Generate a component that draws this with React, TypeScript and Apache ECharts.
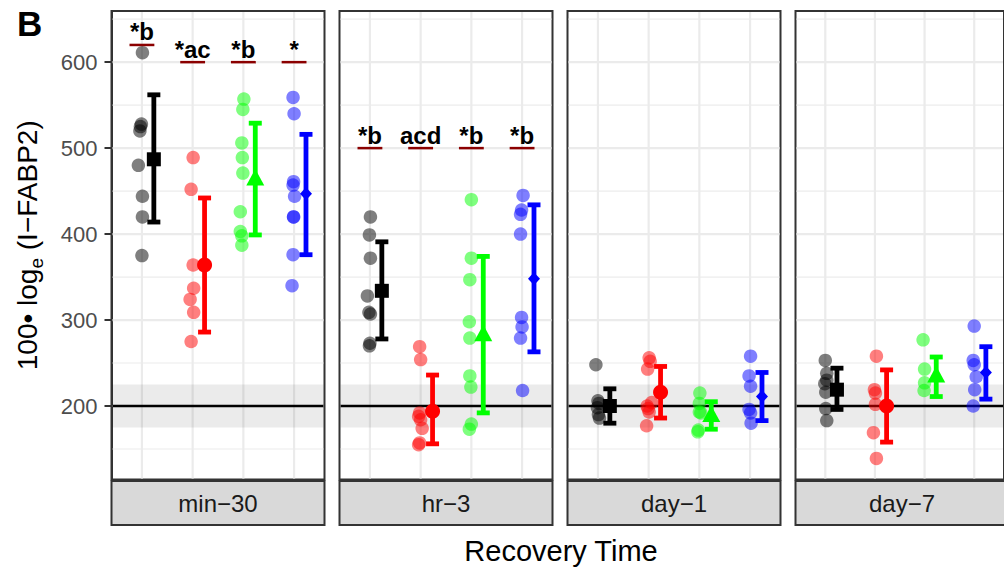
import React, { useEffect, useRef } from "react";
import * as echarts from "echarts";

// ---------- data ----------
const facets = ["min−30", "hr−3", "day−1", "day−7"];
const groupColors = ["#000000", "#FF0000", "#00FF00", "#0000FF"];
const yMajor = [200, 300, 400, 500, 600];
const yMinor = [150, 250, 350, 450, 550, 650];
const refLine = 200;
const refBand = [175, 225];

// individual points per group, one array per facet
const blackPts = [
  [611, 528, 525, 520, 480, 444, 420, 375],
  [420, 399, 372, 328, 309, 307, 273, 270],
  [248, 206, 203, 198, 190, 186],
  [253, 238, 230, 226, 216, 197, 183],
];
const blackJit = [
  [0.01, -0.01, -0.03, -0.04, -0.07, 0.01, 0.01, 0],
  [0.01, -0.01, 0.01, -0.05, -0.02, 0.01, 0, -0.01],
  [-0.04, 0, 0.02, -0.01, 0.01, 0.03],
  [0, 0.03, 0.03, -0.01, 0.01, 0.01, 0.03],
];
const redPts = [
  [489, 452, 364, 337, 324, 309, 275],
  [269, 254, 192, 188, 184, 174, 157, 155],
  [256, 252, 243, 204, 200, 197, 193, 177],
  [258, 219, 215, 202, 169, 139],
];
const redJit = [
  [0.01, -0.03, 0.01, 0.02, -0.05, 0.02, -0.03],
  [-0.02, 0, -0.02, -0.04, 0, 0.03, -0.02, -0.04],
  [0.01, 0.03, -0.02, 0.06, -0.03, -0.01, 0.01, -0.04],
  [0.03, -0.01, 0.01, 0.01, -0.03, 0.03],
];
const greenPts = [
  [557, 545, 506, 489, 471, 426, 403, 398, 387],
  [440, 372, 347, 298, 279, 235, 222, 179, 173],
  [215, 203, 193, 192, 172, 170],
  [277, 243, 227, 218],
];
const greenJit = [
  [0.01, -0.01, -0.03, -0.02, -0.01, -0.06, -0.06, -0.03, -0.03],
  [0, 0, -0.03, -0.04, -0.03, -0.03, -0.01, 0, -0.04],
  [0.01, 0, 0, 0.03, -0.02, -0.03],
  [-0.03, 0, 0, -0.01],
];
const bluePts = [
  [559, 540, 461, 457, 444, 420, 420, 376, 340],
  [445, 428, 423, 400, 303, 292, 279, 218],
  [258, 235, 223, 196, 192, 180],
  [293, 253, 248, 234, 219, 200],
];
const blueJit = [
  [-0.02, 0, -0.01, -0.02, 0.01, -0.01, -0.01, -0.02, -0.04],
  [0.02, -0.01, -0.03, -0.03, -0.01, 0, -0.03, 0.01],
  [0.01, -0.02, 0.01, -0.02, 0.01, 0.02],
  [0, -0.02, 0, 0.04, 0.01, -0.02],
];

// group means with error bar limits, one value per facet
const blackMean = [487, 334, 200, 219];
const blackLo = [414, 278, 180, 196];
const blackHi = [562, 391, 220, 244];
const redMean = [364, 194, 216, 200];
const redLo = [286, 156, 186, 158];
const redHi = [442, 236, 246, 242];
const greenMean = [464, 283, 189, 235];
const greenLo = [399, 192, 173, 211];
const greenHi = [529, 374, 205, 257];
const blueMean = [447, 348, 211, 239];
const blueLo = [376, 263, 183, 208];
const blueHi = [516, 434, 239, 269];

// significance annotations (per facet)
const annotLabels = [
  ["*b", "*ac", "*b", "*"],
  ["*b", "acd", "*b", "*b"],
  [],
  [],
];
const annotY = [
  [620, 600, 600, 600],
  [500, 500, 500, 500],
  [],
  [],
];

const groupPts = [blackPts, redPts, greenPts, bluePts];
const groupJit = [blackJit, redJit, greenJit, blueJit];
const groupMean = [blackMean, redMean, greenMean, blueMean];
const groupLo = [blackLo, redLo, greenLo, blueLo];
const groupHi = [blackHi, redHi, greenHi, blueHi];

// ---------- layout ----------
const FONT = '"Liberation Sans", Arial, Helvetica, sans-serif';
const P_LEFT = 111.5;
const P_STEP = 228;
const P_W = 213;
const P_TOP = 11;
const P_H = 468.5;
const Y_MIN = 114.5;
const Y_MAX = 659.5;
const X_MIN = 0.4;
const X_MAX = 4.6;
const DODGE = 0.235;
const STRIP_H = 44;

function buildOption() {
  const cats = groupColors.map((_, g) => g + 1);
  const grids = facets.map((_, i) => ({
    left: P_LEFT + i * P_STEP,
    top: P_TOP,
    width: P_W,
    height: P_H,
    show: true,
    borderColor: "#333333",
    borderWidth: 2,
    backgroundColor: "#ffffff",
  }));
  const xAxes = facets.map((_, i) => ({
    type: "value",
    gridIndex: i,
    min: X_MIN,
    max: X_MAX,
    show: false,
  }));
  const yAxes = facets.map((_, i) =>
    i === 0
      ? {
          type: "value",
          gridIndex: i,
          min: Y_MIN,
          max: Y_MAX,
          axisLine: { show: true, lineStyle: { color: "#333333", width: 2 } },
          axisTick: {
            show: true,
            length: 7,
            customValues: yMajor,
            lineStyle: { color: "#333333", width: 2 },
          },
          axisLabel: {
            customValues: yMajor,
            fontSize: 22,
            color: "#4d4d4d",
            margin: 14,
            fontFamily: FONT,
          },
          splitLine: { show: false },
          name: "100• log{e|e} (I−FABP2)",
          nameLocation: "middle",
          nameGap: 66,
          nameTextStyle: {
            fontSize: 28,
            color: "#000000",
            fontFamily: FONT,
            lineHeight: 36,
            rich: {
              e: { fontSize: 19, lineHeight: 16, verticalAlign: "bottom", fontFamily: FONT, color: "#000000" },
            },
          },
        }
      : {
          type: "value",
          gridIndex: i,
          min: Y_MIN,
          max: Y_MAX,
          show: false,
        }
  );

  const series: any[] = [];
  facets.forEach((_, i) => {
    // background: grid lines, reference band and line
    series.push({
      type: "custom",
      xAxisIndex: i,
      yAxisIndex: i,
      z: 1,
      silent: true,
      data: [[1, refLine]],
      renderItem: (params: any, api: any) => {
        const cs = params.coordSys;
        const children: any[] = [];
        const x0 = cs.x + 1;
        const x1 = cs.x + cs.width - 1;
        const y0 = cs.y + 1;
        const y1 = cs.y + cs.height - 1;
        yMinor.forEach((v) => {
          const y = api.coord([1, v])[1];
          if (y > y0 && y < y1)
            children.push({ type: "line", shape: { x1: x0, y1: y, x2: x1, y2: y }, style: { stroke: "#ececec", lineWidth: 1.2 } });
        });
        yMajor.forEach((v) => {
          const y = api.coord([1, v])[1];
          children.push({ type: "line", shape: { x1: x0, y1: y, x2: x1, y2: y }, style: { stroke: "#ebebeb", lineWidth: 2.2 } });
        });
        cats.forEach((c) => {
          const x = api.coord([c, refLine])[0];
          children.push({ type: "line", shape: { x1: x, y1: y0, x2: x, y2: y1 }, style: { stroke: "#ebebeb", lineWidth: 2.2 } });
        });
        const bt = api.coord([1, refBand[1]])[1];
        const bb = api.coord([1, refBand[0]])[1];
        children.push({ type: "rect", shape: { x: x0, y: bt, width: x1 - x0, height: bb - bt }, style: { fill: "rgba(0,0,0,0.08)" } });
        const ry = api.coord([1, refLine])[1];
        children.push({ type: "line", shape: { x1: x0, y1: ry, x2: x1, y2: ry }, style: { stroke: "#000000", lineWidth: 2.4 } });
        return { type: "group", children };
      },
    });

    // points
    groupColors.forEach((col, g) => {
      series.push({
        type: "scatter",
        xAxisIndex: i,
        yAxisIndex: i,
        z: 2,
        silent: true,
        symbol: "circle",
        symbolSize: 13.5,
        itemStyle: { color: col, opacity: 0.5 },
        data: groupPts[g][i].map((v, j) => [g + 1 + groupJit[g][i][j], v]),
      });
    });

    // means with error bars
    series.push({
      type: "custom",
      xAxisIndex: i,
      yAxisIndex: i,
      z: 3,
      silent: true,
      data: groupColors.map((_, g) => [g + 1 + DODGE, groupMean[g][i], groupLo[g][i], groupHi[g][i]]),
      renderItem: (params: any, api: any) => {
        const g = params.dataIndex;
        const col = groupColors[g];
        const [cx, cy] = api.coord([api.value(0), api.value(1)]);
        const lo = api.coord([api.value(0), api.value(2)])[1];
        const hi = api.coord([api.value(0), api.value(3)])[1];
        const lw = 4.8;
        const cap = 6.5;
        const st = { stroke: col, lineWidth: lw };
        const children: any[] = [
          { type: "line", shape: { x1: cx, y1: lo, x2: cx, y2: hi }, style: st },
          { type: "line", shape: { x1: cx - cap, y1: lo, x2: cx + cap, y2: lo }, style: st },
          { type: "line", shape: { x1: cx - cap, y1: hi, x2: cx + cap, y2: hi }, style: st },
        ];
        if (g === 0) children.push({ type: "rect", shape: { x: cx - 7, y: cy - 7, width: 14, height: 14 }, style: { fill: col } });
        if (g === 1) children.push({ type: "circle", shape: { cx, cy, r: 7.5 }, style: { fill: col } });
        if (g === 2)
          children.push({ type: "polygon", shape: { points: [[cx, cy - 10], [cx - 9, cy + 6.5], [cx + 9, cy + 6.5]] }, style: { fill: col } });
        if (g === 3)
          children.push({ type: "polygon", shape: { points: [[cx, cy - 6.5], [cx + 6, cy], [cx, cy + 6.5], [cx - 6, cy]] }, style: { fill: col } });
        return { type: "group", children };
      },
    });

    // annotations
    if (annotLabels[i].length) {
      series.push({
        type: "custom",
        xAxisIndex: i,
        yAxisIndex: i,
        z: 4,
        silent: true,
        data: annotLabels[i].map((_, k) => [k + 1, annotY[i][k]]),
        renderItem: (params: any, api: any) => {
          const [x, y] = api.coord([api.value(0), api.value(1)]);
          const half = 0.245 * api.size([1, 0])[0];
          return {
            type: "group",
            children: [
              { type: "line", shape: { x1: x - half, y1: y, x2: x + half, y2: y }, style: { stroke: "#8B0000", lineWidth: 2.5 } },
              {
                type: "text",
                x,
                y: y - 1,
                style: {
                  text: annotLabels[i][params.dataIndex],
                  align: "center",
                  verticalAlign: "bottom",
                  fontSize: 24,
                  fontWeight: "bold",
                  fontFamily: FONT,
                  fill: "#000000",
                },
              },
            ],
          };
        },
      });
    }
  });

  const graphic: any[] = [];
  facets.forEach((f, i) => {
    const left = P_LEFT + i * P_STEP;
    graphic.push({
      type: "rect",
      shape: { x: left, y: P_TOP + P_H + 1.5, width: P_W, height: STRIP_H },
      style: { fill: "#d9d9d9", stroke: "#333333", lineWidth: 2 },
      silent: true,
    });
    graphic.push({
      type: "text",
      x: left + P_W / 2,
      y: P_TOP + P_H + 1.5 + STRIP_H / 2,
      style: {
        text: f,
        align: "center",
        verticalAlign: "middle",
        textAlign: "center",
        textVerticalAlign: "middle",
        fontSize: 24,
        fontFamily: FONT,
        fill: "#1a1a1a",
      },
      silent: true,
    });
  });
  graphic.push({
    type: "text",
    x: 561,
    y: 551,
    style: {
      text: "Recovery Time",
      align: "center",
      verticalAlign: "middle",
      textAlign: "center",
      textVerticalAlign: "middle",
      fontSize: 29,
      fontFamily: FONT,
      fill: "#000000",
    },
    silent: true,
  });
  graphic.push({
    type: "text",
    x: 17,
    y: 23,
    style: {
      text: "B",
      align: "left",
      verticalAlign: "middle",
      textAlign: "left",
      textVerticalAlign: "middle",
      fontSize: 35,
      fontWeight: "bold",
      fontFamily: FONT,
      fill: "#000000",
    },
    silent: true,
  });

  return {
    animation: false,
    backgroundColor: "#ffffff",
    grid: grids,
    xAxis: xAxes,
    yAxis: yAxes,
    series,
    graphic,
  };
}

export default function App() {
  const ref = useRef<HTMLDivElement>(null);
  useEffect(() => {
    if (!ref.current) return;
    const chart = echarts.init(ref.current, undefined, { renderer: "svg" });
    chart.setOption(buildOption() as any);
    return () => chart.dispose();
  }, []);
  return (
    <div
      ref={ref}
      style={{ position: "absolute", left: 0, top: 0, width: 1004, height: 567, overflow: "hidden", background: "#fff" }}
    />
  );
}
